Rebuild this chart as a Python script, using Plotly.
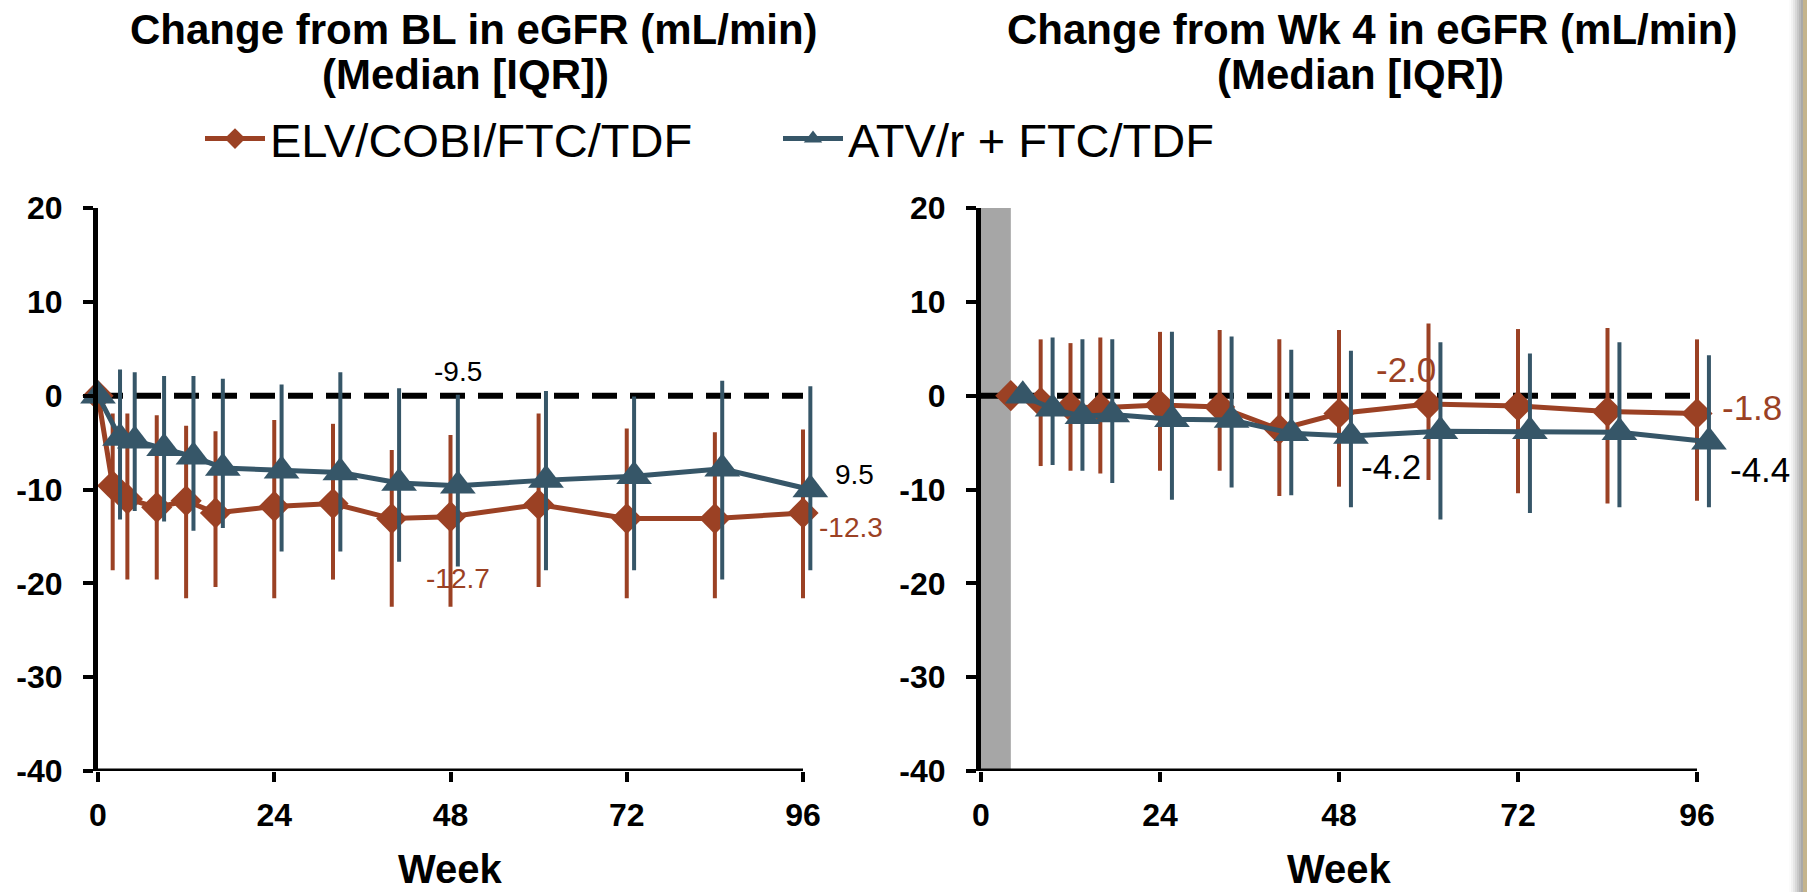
import plotly.graph_objects as go

# ---------------- data ----------------
weeks_bl = [0, 2, 4, 8, 12, 16, 24, 32, 40, 48, 60, 72, 84, 96]
elv_bl_med = [0, -9.6, -11.0, -11.9, -11.2, -12.5, -11.8, -11.5, -13.1, -12.9, -11.6, -13.1, -13.1, -12.5]
elv_bl_q3 = [None, -1.9, -1.9, -2.1, -3.2, -3.8, -2.6, -3.0, -5.8, -4.2, -1.9, -3.5, -3.9, -3.6]
elv_bl_q1 = [None, -18.6, -19.6, -19.6, -21.6, -20.4, -21.6, -19.6, -22.5, -22.5, -20.4, -21.6, -21.6, -21.6]

atv_bl_med = [0, -4.5, -4.8, -5.6, -6.5, -7.7, -8.0, -8.2, -9.3, -9.6, -9.0, -8.6, -7.8, -10.0]
atv_bl_q3 = [None, 2.8, 2.5, 2.1, 2.1, 1.8, 1.2, 2.5, 0.8, 0.1, 0.5, -0.1, 1.6, 1.0]
atv_bl_q1 = [None, -13.2, -12.3, -13.4, -14.4, -14.1, -16.6, -16.6, -17.7, -18.2, -18.6, -18.6, -19.6, -18.6]

weeks_w4 = [4, 8, 12, 16, 24, 32, 40, 48, 60, 72, 84, 96]
elv_w4_med = [0, -0.7, -1.2, -1.3, -1.0, -1.2, -3.6, -1.9, -0.9, -1.1, -1.7, -1.9]
elv_w4_q3 = [None, 6.0, 5.6, 6.2, 6.8, 7.0, 6.0, 7.0, 7.7, 7.1, 7.2, 6.0]
elv_w4_q1 = [None, -7.5, -8.0, -8.3, -8.0, -8.0, -10.7, -9.7, -9.0, -10.4, -11.5, -11.2]

atv_w4_med = [0, -1.4, -2.2, -2.0, -2.5, -2.6, -4.0, -4.3, -3.8, -3.8, -3.9, -4.9]
atv_w4_q3 = [None, 6.2, 6.0, 6.0, 6.8, 6.3, 4.9, 4.8, 5.7, 4.5, 5.7, 4.3]
atv_w4_q1 = [None, -7.4, -8.0, -9.3, -11.1, -9.8, -10.6, -11.9, -13.2, -12.5, -11.9, -11.9]

series_names = ["ELV/COBI/FTC/TDF", "ATV/r + FTC/TDF"]
titles_line1 = ["Change from BL in eGFR (mL/min)", "Change from Wk 4 in eGFR (mL/min)"]
titles_line2 = ["(Median [IQR])", "(Median [IQR])"]
x_ticks = [0, 24, 48, 72, 96]
y_ticks = [-40, -30, -20, -10, 0, 10, 20]
y_tick_text = ["-40", "-30", "-20", "-10", "0", "10", "20"]
band_weeks = [0, 4]

# value labels: (text, week, value, series index)
labels_bl = [("-9.5", 49, 2.6, 1), ("9.5", 103, -8.4, 1), ("-12.7", 49, -19.5, 0), ("-12.3", 102.5, -14.0, 0)]
labels_w4 = [("-2.0", 57, 2.8, 0), ("-4.2", 55, -7.5, 1), ("-1.8", 103.4, -1.3, 0), ("-4.4", 104.4, -7.9, 1)]

# ---------------- style ----------------
ORANGE = "#9B4124"
BLUE = "#365668"
FONT = "Arial, 'Liberation Sans', sans-serif"
W, H = 1807, 892
X_MAX = 96          # end of drawn axis
X_RANGE_MAX = 107   # room for offset markers and end labels

fig = go.Figure()


def err(med, q3, q1):
    up = [None if a is None else a - m for a, m in zip(q3, med)]
    dn = [None if b is None else m - b for b, m in zip(q1, med)]
    return up, dn


def add_panel(weeks, data, xa, ya, offset, showlegend):
    for i, (med, q3, q1) in enumerate(data):
        color = ORANGE if i == 0 else BLUE
        up, dn = err(med, q3, q1)
        xs = [w + (offset if (i == 1 and w > 0) else 0) for w in weeks]
        fig.add_trace(go.Scatter(
            x=xs, y=med, xaxis=xa, yaxis=ya,
            mode="lines+markers", name=series_names[i],
            showlegend=showlegend, cliponaxis=False,
            line=dict(color=color, width=5),
            marker=dict(color=color, size=24 if i == 0 else 31,
                        symbol="diamond" if i == 0 else "triangle-up"),
            error_y=dict(type="data", array=up, arrayminus=dn, symmetric=False,
                         color=color, thickness=4, width=0),
        ))


add_panel(weeks_bl, [(elv_bl_med, elv_bl_q3, elv_bl_q1), (atv_bl_med, atv_bl_q3, atv_bl_q1)],
          "x", "y", 1.0, True)
add_panel(weeks_w4, [(elv_w4_med, elv_w4_q3, elv_w4_q1), (atv_w4_med, atv_w4_q3, atv_w4_q1)],
          "x2", "y2", 1.6, False)

ydom = [121 / H, 684 / H]
# pixel positions of week 0 and week 96 in each panel
px0 = [98, 981]
px96 = [803, 1697]
xdoms = []
for a, b in zip(px0, px96):
    per = (b - a) / X_MAX
    xdoms.append([a / W, (a + per * X_RANGE_MAX) / W])

axis_common = dict(showgrid=False, zeroline=False, linecolor="black", linewidth=5,
                   ticks="outside", ticklen=10, tickwidth=4, tickcolor="black", automargin=False,
                   tickfont=dict(family=FONT, size=32, color="black", weight="bold"))

fig.update_layout(
    template="none",
    width=W, height=H, margin=dict(l=0, r=0, t=0, b=0, pad=0, autoexpand=False),
    paper_bgcolor="white", plot_bgcolor="rgba(0,0,0,0)",
    xaxis=dict(domain=xdoms[0], range=[0, X_RANGE_MAX], tickvals=x_ticks, anchor="y",
               showline=False, ticklabelstandoff=6, **axis_common),
    yaxis=dict(domain=ydom, range=[-40, 20], tickvals=y_ticks, ticktext=y_tick_text, anchor="x",
               showline=True, ticklabelstandoff=14, **axis_common),
    xaxis2=dict(domain=xdoms[1], range=[0, X_RANGE_MAX], tickvals=x_ticks, anchor="y2",
                showline=False, ticklabelstandoff=6, **axis_common),
    yaxis2=dict(domain=ydom, range=[-40, 20], tickvals=y_ticks, ticktext=y_tick_text, anchor="x2",
                showline=True, ticklabelstandoff=14, **axis_common),
    legend=dict(orientation="h", x=200 / W, xanchor="left", y=1 - 139 / H, yanchor="middle",
                font=dict(family=FONT, size=47, color="black"),
                entrywidth=503, entrywidthmode="pixels",
                bgcolor="rgba(0,0,0,0)", itemwidth=60),
    showlegend=True,
)

shapes = []
# grey band weeks 0-4 in right panel
shapes.append(dict(type="rect", xref="x2", yref="y2", x0=band_weeks[0], x1=band_weeks[1],
                   y0=-40, y1=20.6, fillcolor="#A6A6A6", line=dict(width=0), layer="below"))
for xr, yr in [("x", "y"), ("x2", "y2")]:
    # dashed zero line
    shapes.append(dict(type="line", xref=xr, yref=yr, x0=0, x1=X_MAX, y0=0, y1=0,
                       line=dict(color="black", width=6, dash="25px,13px"), layer="below"))
    # x axis line (ends at week 96)
    shapes.append(dict(type="line", xref=xr, yref=yr, x0=0, x1=X_MAX, y0=-40, y1=-40,
                       line=dict(color="black", width=5), layer="above"))
# slide edge shadow on the right
greys = ["#fbfbfb", "#f2f2f2", "#e6e6e6", "#d8d8d8", "#c8c8c8", "#b8b8b8", "#a8a8a8"]
x_start = 1789
for k, g in enumerate(greys):
    shapes.append(dict(type="rect", xref="paper", yref="paper",
                       x0=(x_start + 2 * k) / W, x1=(x_start + 2 * k + 2) / W, y0=0, y1=1,
                       fillcolor=g, line=dict(width=0), layer="above"))
shapes.append(dict(type="rect", xref="paper", yref="paper", x0=1803 / W, x1=1,
                   y0=0, y1=1, fillcolor="#C4B48C", line=dict(width=0), layer="above"))
fig.update_layout(shapes=shapes)

ann = []
title_x1 = [474 / W, 1372 / W]
title_x2 = [465 / W, 1360 / W]
for i in range(2):
    ann.append(dict(text="<b>%s</b>" % titles_line1[i], x=title_x1[i], y=1 - 29 / H, xref="paper",
                    yref="paper", showarrow=False, xanchor="center", yanchor="middle",
                    font=dict(family=FONT, size=42, color="black")))
    ann.append(dict(text="<b>%s</b>" % titles_line2[i], x=title_x2[i], y=1 - 74 / H, xref="paper",
                    yref="paper", showarrow=False, xanchor="center", yanchor="middle",
                    font=dict(family=FONT, size=42, color="black")))
    cx = (px0[i] + px96[i]) / 2 / W
    ann.append(dict(text="<b>Week</b>", x=cx, y=1 - 869 / H,
                    xref="paper", yref="paper", showarrow=False, xanchor="center", yanchor="middle",
                    font=dict(family=FONT, size=40, color="black")))

for labels, xr, yr, fs in [(labels_bl, "x", "y", 28), (labels_w4, "x2", "y2", 35)]:
    for txt, wx, vy, si in labels:
        ann.append(dict(text=txt, x=wx, y=vy, xref=xr, yref=yr, showarrow=False,
                        xanchor="center", yanchor="middle",
                        font=dict(family=FONT, size=fs, color=ORANGE if si == 0 else "black")))
fig.update_layout(annotations=ann)

fig.write_html("out.html")
